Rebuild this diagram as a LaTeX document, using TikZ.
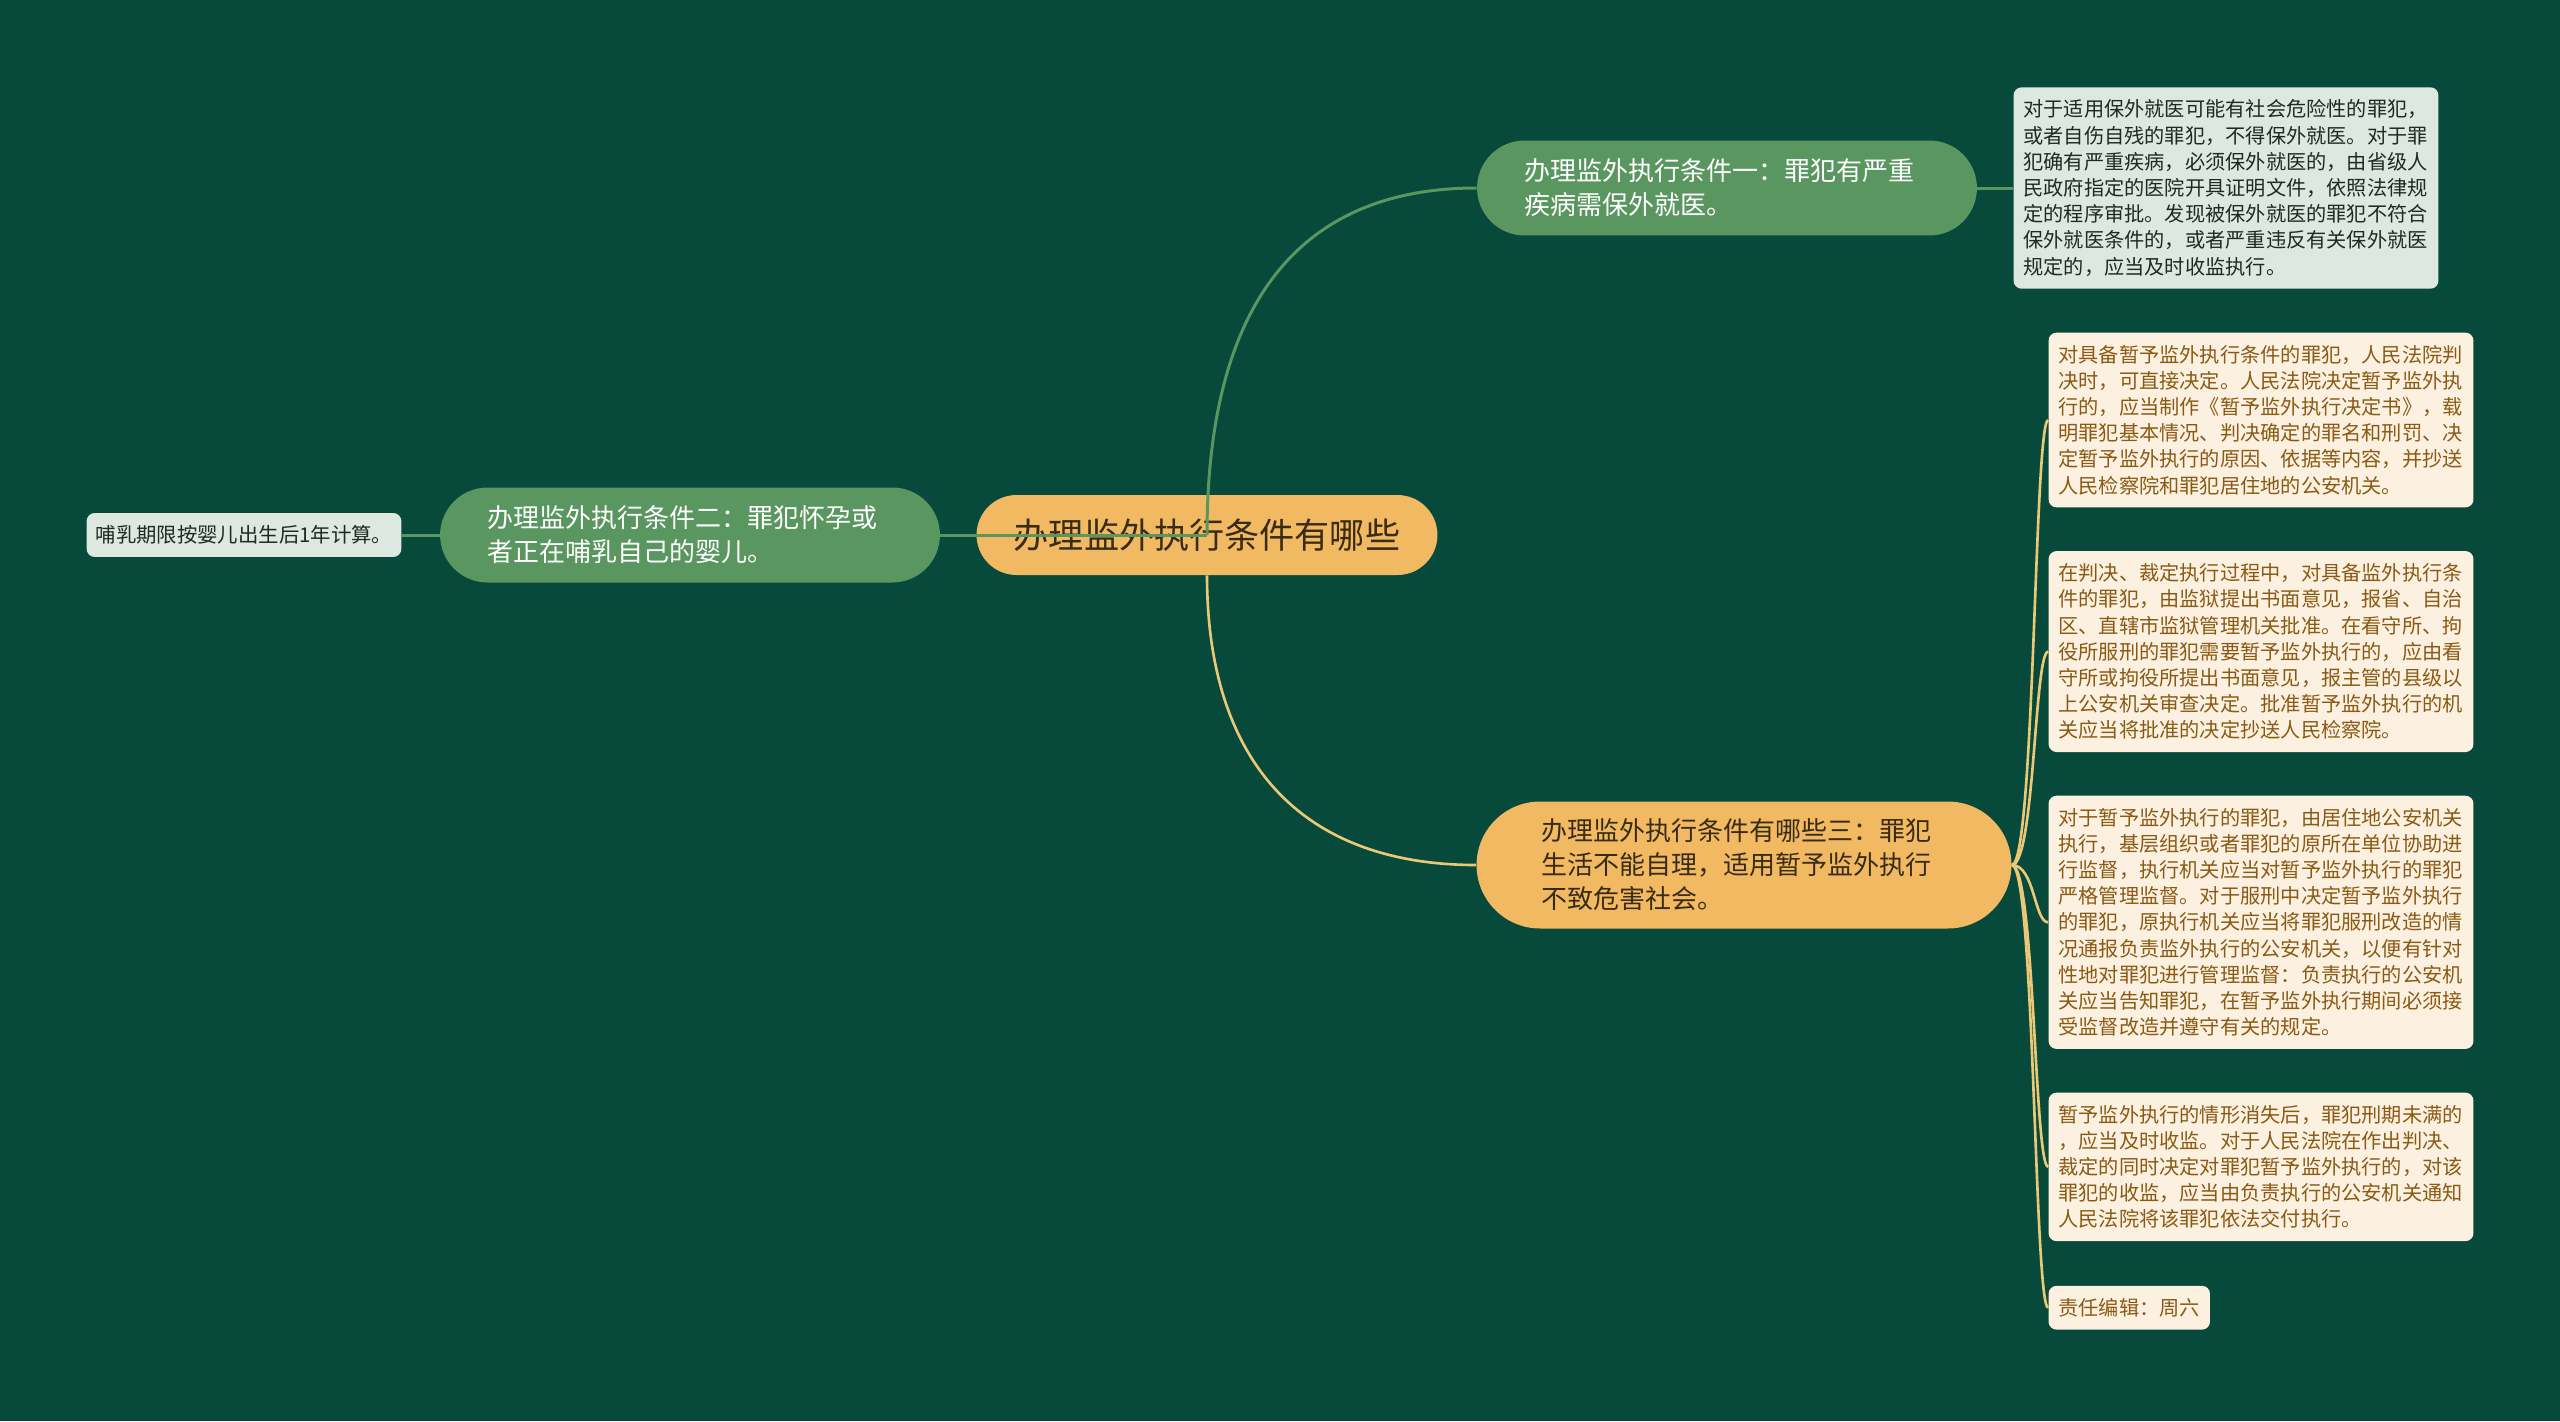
\documentclass[tikz,border=0pt]{standalone}
\usepackage{fontspec}
\newfontfamily\cjk{Noto Sans CJK SC}
\usepackage{tikz}
\usetikzlibrary{positioning}
\definecolor{bgGreen}{HTML}{07493A}
\definecolor{nodeGreen}{HTML}{5A9660}
\definecolor{paleGreen}{HTML}{DDE8E0}
\definecolor{nodeYellow}{HTML}{F0B962}
\definecolor{lineYellow}{HTML}{EBC877}
\definecolor{paleCream}{HTML}{FCF1E0}
\definecolor{textBrown}{HTML}{8A5A14}
\definecolor{textDark}{HTML}{3A2C14}
\definecolor{textGrey}{HTML}{1E2A24}
\newlength{\branchWidth}
\setlength{\branchWidth}{8.1cm}
\newlength{\detailWidth}
\setlength{\detailWidth}{8.1cm}
\tikzset{rootbox/.style={shape=rectangle, fill=nodeYellow, text=textDark, rounded corners=0.8cm, minimum width=9.22cm, minimum height=1.6cm, inner sep=0pt, font=\cjk\fontsize{20pt}{24pt}\selectfont},
  branchbox/.style={shape=rectangle, rounded corners=0.95cm, minimum height=1.9cm, inner xsep=0.95cm, inner ysep=0pt, text width=\branchWidth, align=left, font=\cjk\fontsize{14.8pt}{19.35pt}\selectfont},
  greenbranch/.style={branchbox, fill=nodeGreen, text=white},
  yellowbranch/.style={branchbox, fill=nodeYellow, text=textDark, rounded corners=1.27cm, minimum height=2.54cm, inner xsep=1.3cm},
  detailbox/.style={shape=rectangle, rounded corners=0.16cm, inner xsep=0.2cm, inner ysep=0.25cm, align=left, font=\cjk\fontsize{11.5pt}{14.9pt}\selectfont},
  creambox/.style={detailbox, fill=paleCream, text=textBrown},
  palebox/.style={detailbox, fill=paleGreen, text=textGrey},
  glink/.style={draw=nodeGreen, line width=1.7pt},
  ylink/.style={draw=lineYellow, line width=1.5pt}}
\begin{document}
\begin{tikzpicture}[x=0.02cm, y=-0.02cm]
\fill[bgGreen] (0,0) rectangle (2560,1421);
\node[rootbox] (root) at (1207,535) {办理监外执行条件有哪些};
\node[greenbranch] (cond1) at (1727,188) {办理监外执行条件一：罪犯有严重\\疾病需保外就医。};
\node[greenbranch] (cond2) at (690,535) {办理监外执行条件二：罪犯怀孕或\\者正在哺乳自己的婴儿。};
\node[yellowbranch] (cond3) at (1744,865) {办理监外执行条件有哪些三：罪犯\\生活不能自理，适用暂予监外执行\\不致危害社会。};
\node[palebox, text width=\detailWidth] (medical) at (2226,188) {对于适用保外就医可能有社会危险性的罪犯，\\或者自伤自残的罪犯，不得保外就医。对于罪\\犯确有严重疾病，必须保外就医的，由省级人\\民政府指定的医院开具证明文件，依照法律规\\定的程序审批。发现被保外就医的罪犯不符合\\保外就医条件的，或者严重违反有关保外就医\\规定的，应当及时收监执行。};
\node[palebox, inner xsep=0.18cm, minimum height=0.86cm, font=\cjk\fontsize{11.6pt}{14.5pt}\selectfont] (nursing) at (244,535) {哺乳期限按婴儿出生后1年计算。};
\begin{scope}[every node/.style={creambox, text width=\detailWidth}]
    \node (court) at (2261,420) {对具备暂予监外执行条件的罪犯，人民法院判\\决时，可直接决定。人民法院决定暂予监外执\\行的，应当制作《暂予监外执行决定书》，载\\明罪犯基本情况、判决确定的罪名和刑罚、决\\定暂予监外执行的原因、依据等内容，并抄送\\人民检察院和罪犯居住地的公安机关。};
    \node[below=0.86cm of court] (prison) {在判决、裁定执行过程中，对具备监外执行条\\件的罪犯，由监狱提出书面意见，报省、自治\\区、直辖市监狱管理机关批准。在看守所、拘\\役所服刑的罪犯需要暂予监外执行的，应由看\\守所或拘役所提出书面意见，报主管的县级以\\上公安机关审查决定。批准暂予监外执行的机\\关应当将批准的决定抄送人民检察院。};
    \node[below=0.86cm of prison] (police) {对于暂予监外执行的罪犯，由居住地公安机关\\执行，基层组织或者罪犯的原所在单位协助进\\行监督，执行机关应当对暂予监外执行的罪犯\\严格管理监督。对于服刑中决定暂予监外执行\\的罪犯，原执行机关应当将罪犯服刑改造的情\\况通报负责监外执行的公安机关，以便有针对\\性地对罪犯进行管理监督：负责执行的公安机\\关应当告知罪犯，在暂予监外执行期间必须接\\受监督改造并遵守有关的规定。};
    \node[below=0.86cm of police] (recall) {暂予监外执行的情形消失后，罪犯刑期未满的\\，应当及时收监。对于人民法院在作出判决、\\裁定的同时决定对罪犯暂予监外执行的，对该\\罪犯的收监，应当由负责执行的公安机关通知\\人民法院将该罪犯依法交付执行。};
    \node[text width={}, below=0.88cm of recall.south west, anchor=north west] (editor) {责任编辑：周六};
\end{scope}
\draw[glink] (cond2.east) -- (root.center);
\draw[glink] (root.center) .. controls +(0,-205) and +(-197,0) .. (cond1.west);
\draw[ylink] (root.south) .. controls +(0,184) and +(-177,0) .. (cond3.west);
\draw[glink] (cond1.east) -- (medical.west);
\draw[glink] (cond2.west) -- (nursing.east);
\foreach \leaf in {court,prison,police,recall,editor}
    \draw[ylink] (cond3.east) .. controls +(23,0) and +(-14,0) .. (\leaf.west);
\end{tikzpicture}
\end{document}
